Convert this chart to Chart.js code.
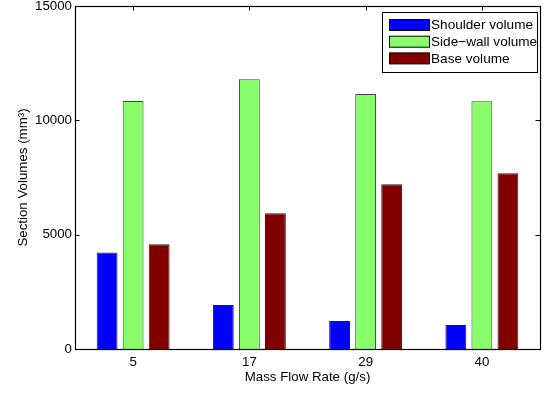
<!DOCTYPE html>
<html>
<head>
<meta charset="utf-8">
<script src="https://cdn.jsdelivr.net/npm/chart.js@4/dist/chart.umd.min.js"></script>
<style>
  html, body { margin: 0; padding: 0; background: #fff; }
  #wrap { width: 549px; height: 394px; position: relative; }
</style>
</head>
<body>
<div id="wrap"><canvas id="barChart"></canvas></div>
<script>
// data
const flowRates = ['5', '17', '29', '40'];
const shoulderVolume = [4220, 1920, 1220, 1050];
const sideWallVolume = [10850, 11800, 11150, 10830];
const baseVolume = [4580, 5940, 7210, 7690];
const yTicks = [0, 5000, 10000, 15000];

const FONT = "'Liberation Sans', Arial, Helvetica, sans-serif";
Chart.defaults.font.family = FONT;
Chart.defaults.font.size = 13.3;
Chart.defaults.color = '#000';

// box around the axes + inward tick marks (MATLAB style)
const frame = {
  id: 'frame',
  beforeDatasetsDraw(chart) {
    const {ctx, chartArea: a, scales: {x, y}} = chart;
    const tl = 4.5;
    ctx.save();
    ctx.strokeStyle = '#000';
    ctx.lineWidth = 1;
    ctx.beginPath();
    flowRates.forEach((c, i) => {
      const px = Math.round(x.getPixelForValue(i)) + 0.5;
      ctx.moveTo(px, a.top); ctx.lineTo(px, a.top + tl);
      ctx.moveTo(px, a.bottom); ctx.lineTo(px, a.bottom - tl);
    });
    yTicks.forEach(v => {
      const py = Math.round(y.getPixelForValue(v)) + 0.5;
      ctx.moveTo(a.left, py); ctx.lineTo(a.left + tl, py);
      ctx.moveTo(a.right, py); ctx.lineTo(a.right - tl, py);
    });
    ctx.stroke();
    ctx.restore();
  },
  afterDatasetsDraw(chart) {
    const {ctx, chartArea: a} = chart;
    ctx.save();
    ctx.strokeStyle = '#000';
    ctx.lineWidth = 1.2;
    ctx.strokeRect(Math.round(a.left) + 0.5, Math.round(a.top) + 0.5,
      Math.round(a.right - a.left), Math.round(a.bottom - a.top));
    ctx.restore();
  },
  afterDraw(chart) {
    // legend box in the upper right corner
    const {ctx} = chart;
    const bx = 382.5, by = 12.5, bw = 155, bh = 60;
    ctx.save();
    ctx.fillStyle = '#fff';
    ctx.fillRect(bx, by, bw, bh);
    ctx.strokeStyle = '#000';
    ctx.lineWidth = 1;
    ctx.strokeRect(bx, by, bw, bh);
    ctx.font = '13.6px ' + FONT;
    ctx.textBaseline = 'middle';
    chart.data.datasets.forEach((ds, i) => {
      const sy = 19.5 + i * 16.7;
      ctx.fillStyle = ds.backgroundColor;
      ctx.fillRect(389.5, sy, 40, 11);
      ctx.strokeStyle = '#000';
      ctx.strokeRect(389.5, sy, 40, 11);
      ctx.fillStyle = '#000';
      ctx.fillText(ds.label, 431, sy + 6);
    });
    ctx.restore();
  }
};

new Chart(document.getElementById('barChart'), {
  type: 'bar',
  data: {
    labels: flowRates,
    datasets: [{
      label: 'Shoulder volume',
      data: shoulderVolume,
      backgroundColor: '#0000ff',
      borderColor: '#222',
      borderWidth: 1
    }, {
      label: 'Side\u2212wall volume',
      data: sideWallVolume,
      backgroundColor: '#88ff6a',
      borderColor: '#444',
      borderWidth: 1
    }, {
      label: 'Base volume',
      data: baseVolume,
      backgroundColor: '#800000',
      borderColor: '#222',
      borderWidth: 1
    }]
  },
  options: {
    responsive: true,
    maintainAspectRatio: false,
    animation: false,
    categoryPercentage: 0.672,
    barPercentage: 0.8,
    layout: { padding: { top: 6, right: 9, left: 0, bottom: 0 } },
    plugins: {
      legend: { display: false },
      tooltip: { enabled: false }
    },
    scales: {
      x: {
        grid: { display: false, drawTicks: false },
        border: { display: false },
        ticks: { padding: 5, color: '#000' },
        title: {
          display: true,
          text: 'Mass Flow Rate (g/s)',
          color: '#000',
          padding: { top: 0, bottom: 9 }
        },
        afterFit(scale) {
          scale.height = 45;
          scale.paddingLeft = 0;
          scale.paddingRight = 0;
        }
      },
      y: {
        min: 0,
        max: 15000,
        grid: { display: false, drawTicks: false },
        border: { display: false },
        afterBuildTicks(scale) { scale.ticks = yTicks.map(v => ({ value: v })); },
        ticks: { padding: 3, color: '#000', callback: v => String(v) },
        title: {
          display: true,
          text: 'Section Volumes (mm\u00b3)',
          color: '#000',
          padding: { top: 15, bottom: 0 }
        },
        afterFit(scale) {
          scale.width = 75;
          scale.paddingTop = 0;
          scale.paddingBottom = 0;
        }
      }
    }
  },
  plugins: [frame]
});
</script>
</body>
</html>
